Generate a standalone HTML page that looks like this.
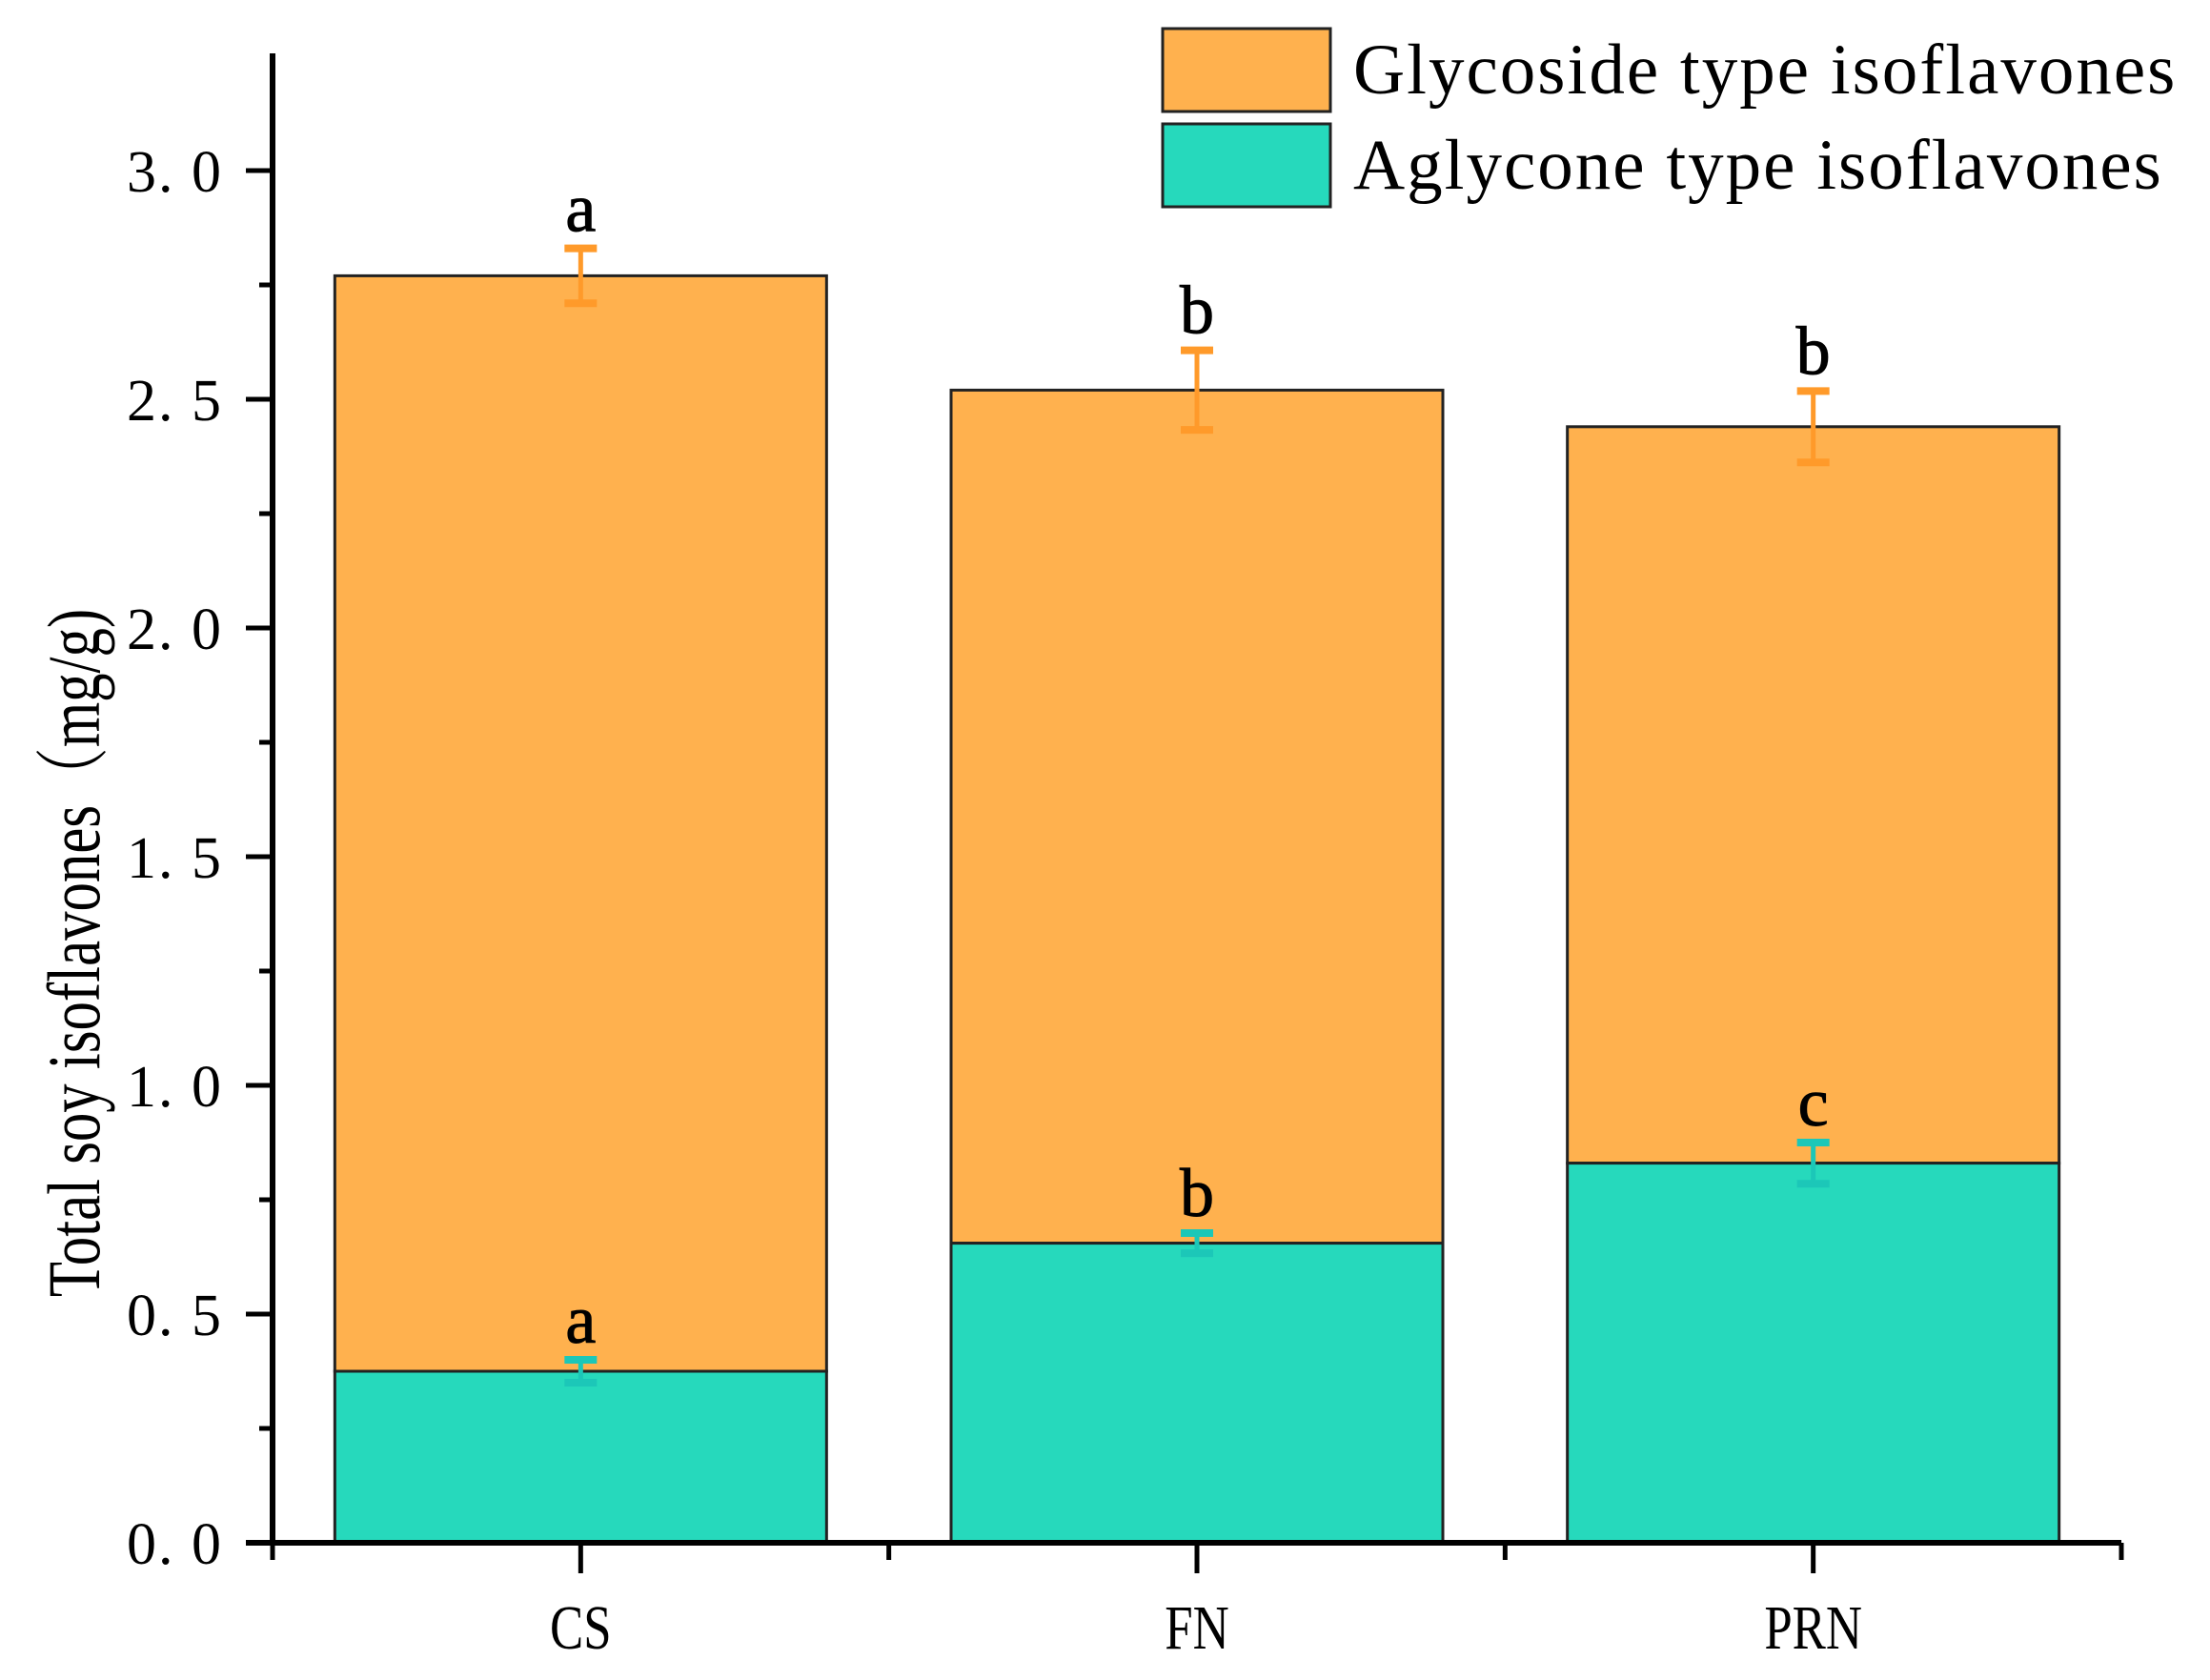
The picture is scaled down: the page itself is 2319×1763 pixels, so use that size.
<!DOCTYPE html>
<html><head><meta charset="utf-8"><style>
html,body{margin:0;padding:0;background:#fff;}
svg{display:block;}
</style></head><body>
<svg id="chart" width="2319" height="1763" viewBox="0 0 2319 1763" xmlns="http://www.w3.org/2000/svg">
<g id="plot"></g>
</svg>
<script>
const categories = ["CS", "FN", "PRN"];
const aglycone = [0.375, 0.655, 0.83];
const aglyconeErr = [0.025, 0.022, 0.045];
const total = [2.77, 2.52, 2.44];
const totalErr = [0.06, 0.087, 0.078];
const aglyconeLetters = ["a", "b", "c"];
const totalLetters = ["a", "b", "b"];
const yTicks = [0, 0.5, 1.0, 1.5, 2.0, 2.5, 3.0];
const yTickLabels = ["0. 0", "0. 5", "1. 0", "1. 5", "2. 0", "2. 5", "3. 0"];

const NS = "http://www.w3.org/2000/svg";
const g = document.getElementById("plot");
const X0 = 286, X1 = 2226, Y0 = 1619, YTOP = 56;
const UNIT = (1619 - 179) / 3.0;
function y(v){ return Y0 - v * UNIT; }
const step = (X1 - X0) / categories.length;
function x(i){ return X0 + step * (i + 0.5); }
const barW = 516;
const ORANGE = "#FFB14E", TEAL = "#26D9BC";
function el(tag, attrs, parent){
  const e = document.createElementNS(NS, tag);
  for (const k in attrs) e.setAttribute(k, attrs[k]);
  (parent || g).appendChild(e);
  return e;
}
categories.forEach((c, i) => {
  const cx = x(i);
  const top = el("rect", {x: cx - barW/2, y: y(total[i]), width: barW, height: y(aglycone[i]) - y(total[i]), fill: ORANGE, stroke: "#222", "stroke-width": 3});
  
  
  const bot = el("rect", {x: cx - barW/2, y: y(aglycone[i]), width: barW, height: Y0 - y(aglycone[i]), fill: TEAL, stroke: "#222", "stroke-width": 3});
  
  
  [[total[i], totalErr[i], "#FF9A2A", totalLetters[i]], [aglycone[i], aglyconeErr[i], "#1CC7B8", aglyconeLetters[i]]].forEach((d, j) => {
    const eb = el("g", {stroke: d[2], "stroke-width": 5, fill: "none"});
    
    
    el("line", {x1: cx, x2: cx, y1: y(d[0] + d[1]), y2: y(d[0] - d[1])}, eb);
    el("line", {x1: cx - 17, x2: cx + 17, y1: y(d[0] + d[1]), y2: y(d[0] + d[1]), "stroke-width": 8}, eb);
    el("line", {x1: cx - 17, x2: cx + 17, y1: y(d[0] - d[1]), y2: y(d[0] - d[1]), "stroke-width": 8}, eb);
    const t = el("text", {x: cx, y: y(d[0] + d[1]) - 18, "text-anchor": "middle", "font-family": "Liberation Serif, serif", "font-size": 72, fill: "#000", stroke: "#000", "stroke-width": 1});
    t.textContent = d[3];
    
    
  });
  const tk = el("line", {x1: cx, x2: cx, y1: Y0, y2: Y0 + 32, stroke: "#000", "stroke-width": 5});
  
  
  const lb = el("text", {x: cx, y: 1730, "text-anchor": "middle", "font-family": "Liberation Serif, serif", "font-size": 66, fill: "#000", transform: `translate(${cx},0) scale(0.8,1) translate(${-cx},0)`});
  lb.textContent = c;
  
  
});
for (let i = 0; i <= categories.length; i++){
  const mx = X0 + step * i;
  const m = el("line", {x1: mx, x2: mx, y1: Y0, y2: Y0 + 18, stroke: "#000", "stroke-width": 5});
  
  
}
yTicks.forEach((v, i) => {
  const t = el("line", {x1: X0 - 28, x2: X0, y1: y(v), y2: y(v), stroke: "#000", "stroke-width": 5});
  
  
  const l = el("text", {x: 234, y: y(v) + 22, "text-anchor": "end", "font-family": "Liberation Serif, serif", "font-size": 62, "letter-spacing": 2, fill: "#000"});
  l.textContent = yTickLabels[i];
  
  
  if (i < yTicks.length - 1){
    const m = el("line", {x1: X0 - 14, x2: X0, y1: y(v + 0.25), y2: y(v + 0.25), stroke: "#000", "stroke-width": 5});
    
    
  }
});
const ya = el("line", {x1: X0, x2: X0, y1: YTOP, y2: Y0 + 2, stroke: "#000", "stroke-width": 6});


const xa = el("line", {x1: X0 - 28, x2: X1, y1: Y0, y2: Y0, stroke: "#000", "stroke-width": 6});


const yt = el("text", {x: 0, y: 0, "text-anchor": "middle", "font-family": "Liberation Serif, 'Noto Serif CJK SC', serif", "font-size": 78, fill: "#000", transform: "translate(104,1000) rotate(-90) scale(0.78,1)"});
yt.textContent = "Total soy isoflavones（mg/g)";


const lg = el("g", {});


[["Glycoside type isoflavones", ORANGE, 30], ["Aglycone type isoflavones", TEAL, 130]].forEach((d, i) => {
  const r = el("rect", {x: 1220, y: d[2], width: 176, height: 87, fill: d[1], stroke: "#222", "stroke-width": 3}, lg);
  
  
  const t = el("text", {x: 1420, y: d[2] + 68, "font-family": "Liberation Serif, serif", "font-size": 75, "letter-spacing": 2, fill: "#000"}, lg);
  t.textContent = d[0];
  
  
});
</script>
</body></html>
